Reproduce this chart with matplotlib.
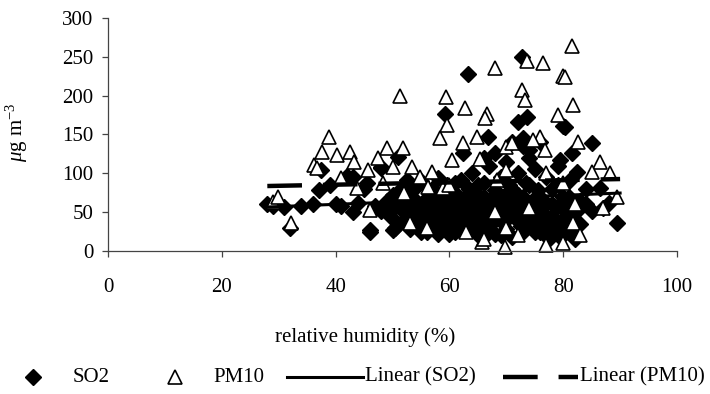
import matplotlib
matplotlib.use("Agg")
import matplotlib.pyplot as plt
from matplotlib.lines import Line2D
import numpy as np

plt.rcParams['font.family'] = ['Liberation Serif', 'DejaVu Serif']
plt.rcParams['mathtext.fontset'] = 'custom'
plt.rcParams['mathtext.rm'] = 'Liberation Serif'
plt.rcParams['mathtext.it'] = 'Liberation Serif:italic'

# SO2 readings: relative humidity (%) and concentration (ug/m3)
so2_rh = [28, 29, 31, 32, 34, 36, 37, 37.5, 39, 40, 41, 42, 43, 43, 44, 45, 46, 47, 48, 48,
          45.5, 48, 51, 46, 50, 58, 59.2, 63.3, 72.8, 72, 73.6, 66.8, 80, 68, 62.4, 80.3,
          85, 79.4, 81.5, 82.4, 86.5, 88, 89.5, 82.6, 81.7,
          49, 49.5, 50, 50.5, 51, 51.5, 52, 52, 52.5, 53, 53, 53.5, 54, 54, 54.5, 55, 55,
          55.5, 56, 56, 56.5, 57, 57, 57.5, 58, 58, 58.5,
          59, 59.5, 60, 60, 60.5, 61, 61, 61.5, 62, 62, 62.5, 63, 63, 63.5, 64, 64, 64.5,
          65, 65, 65.5,
          66, 66, 66.5, 67, 67, 67.5, 68, 68, 68.5, 69, 69, 69.5, 70, 70, 70.5, 71, 71,
          71.5, 72, 72, 72.5, 73, 73, 73.5, 74, 74, 74.5,
          75, 75, 75.5, 76, 76, 76.5, 77, 77, 77.5, 78, 78, 78.5, 79, 79, 79.5, 80, 80,
          80.5, 81, 81.5, 82, 83, 84, 85, 87, 66, 70, 74, 71, 73,
          50, 51, 52, 53, 54, 55, 55, 56, 57, 57, 58, 59, 59, 60, 60, 61, 61, 62, 62,
          63, 63, 64, 64, 65, 65, 66, 66, 67, 67, 68, 68, 69, 69, 70, 70, 71, 71, 72,
          72, 73, 73, 74, 74, 75, 75, 76, 76, 77, 77, 78, 78, 79, 79, 80, 80, 81, 81,
          82, 83, 84]
so2_val = [60, 58, 57, 30, 58, 60, 78, 104, 85, 60, 58, 97, 95, 50, 62, 80, 25, 58, 107, 52,
           88, 108, 121, 27, 27, 94, 177, 228, 250, 166, 173, 147, 161, 126, 126, 160,
           139, 117, 126, 102, 81, 62, 36, 53, 23,
           65, 45, 72, 30, 58, 80, 40, 63, 92, 28, 52, 70, 35, 60, 85, 45, 25,
           65, 55, 38, 75, 30, 62, 48, 70, 22, 40,
           55, 85, 35, 65, 48, 75, 25, 58, 92, 40, 68, 30, 55, 80, 45, 100, 62,
           20, 72, 38,
           55, 88, 30, 65, 110, 45, 78, 22, 58, 95, 38, 70, 50, 28, 85, 60, 18,
           42, 100, 72, 32, 55, 135, 88, 120, 45, 65,
           25, 105, 78, 50, 140, 35, 62, 95, 15, 45, 80, 25, 58, 110, 35, 70, 20,
           50, 90, 40, 15, 65, 80, 52, 55, 120, 115, 130, 140, 145,
           55, 35, 50, 75, 45, 58, 90, 25, 45, 80, 55, 30, 68, 50, 22, 42, 88, 55, 28,
           70, 42, 58, 30, 48, 85, 40, 70, 25, 52, 65, 40, 55, 20, 65, 40, 80, 50, 40,
           60, 25, 70, 35, 85, 60, 45, 70, 25, 45, 30, 60, 35, 85, 20, 40, 60, 70, 25,
           50, 35, 60]

# PM10 readings
pm10_rh = [29, 29.9, 32.2, 38.8, 37.6, 40.2, 42.5, 43.2, 36.2, 36.7, 41, 43.8,
           51.3, 59.4, 58.3, 49, 51.8, 47.5, 50, 53.4, 45.7, 48.3, 54.8, 57, 56.2, 46, 53,
           58.9, 59.6, 62.7, 66.6, 66.3, 68, 72.8, 73.3, 73.6, 76.5, 80, 81.5, 79, 64.8,
           62.4, 70, 76, 76.8, 74.7, 60.5, 65.4, 70, 80.3, 81.7, 82.6, 86.5, 85, 88.2,
           89.5, 87, 80, 81.7, 77, 69.8, 65.7, 68.4, 71,
           52, 56, 60, 63, 66, 68, 70, 72, 74, 77, 80, 82, 83]
pm10_val = [63, 70, 36, 147, 127, 123, 127, 115, 111, 107, 94, 81,
            200, 198, 145, 133, 133, 120, 108, 108, 104, 88, 95, 102, 82, 53, 36,
            81, 162, 184, 177, 171, 235, 207, 194, 244, 242, 225, 264, 175, 147,
            139, 134, 147, 130, 143, 117, 119, 104, 224, 188, 140, 115, 102, 100,
            70, 55, 87, 36, 8, 5, 12, 91, 139,
            75, 30, 85, 25, 15, 50, 30, 20, 55, 100, 10, 60, 20]

# least-squares trend lines (slope, intercept) and their x range
so2_fit = (0.29, 48.5)
pm10_fit = (0.145, 79.6)
fit_range = [28, 90]

fig = plt.figure(figsize=(7.1, 3.94), dpi=100)
ax = fig.add_axes([108 / 710, 1 - 251 / 394, 569 / 710, 233 / 394])

ax.plot(so2_rh, so2_val, linestyle='none', marker='D', ms=8.3,
        mfc='black', mec='black', clip_on=False)
ax.plot(pm10_rh, pm10_val, linestyle='none', marker='^', ms=9.5,
        mfc='white', mec='black', mew=1.2, clip_on=False)

fx = np.array(fit_range)
ax.plot(fx, so2_fit[0] * fx + so2_fit[1], color='black', lw=2.2)
ax.plot(fx, pm10_fit[0] * fx + pm10_fit[1], color='black', lw=3.2,
        dashes=(7.8, 4.7), dash_capstyle='butt')

ax.set_xlim(0, 100)
ax.set_ylim(0, 300)
ax.set_xticks(range(0, 101, 20))
ax.set_yticks(range(0, 301, 50))
for s in ['top', 'right']:
    ax.spines[s].set_visible(False)
for s in ['left', 'bottom']:
    ax.spines[s].set_color('#444444')
    ax.spines[s].set_linewidth(0.9)
ax.tick_params(axis='both', direction='out', length=4.5, width=0.9,
               color='#444444', labelsize=15)
ax.tick_params(axis='x', pad=15)
ax.tick_params(axis='y', pad=6)

ax.set_xlabel('relative humidity (%)', fontsize=15)
ax.xaxis.set_label_coords(0.452, -0.326)
ax.set_ylabel(r'$\mu$g m$^{-3}$', fontsize=15)
ax.yaxis.set_label_coords(-0.137, 0.51)

# legend row along the bottom
ly = 1 - 377 / 394
def px(v):
    return v / 710

fig.add_artist(Line2D([px(33)], [ly], marker='D', ms=8.3, color='black',
                      linestyle='none', transform=fig.transFigure))
fig.text(px(73), ly, 'SO2', fontsize=15, va='center')
fig.add_artist(Line2D([px(175)], [ly], marker='^', ms=9.5, mfc='white', mec='black',
                      mew=1.2, linestyle='none', transform=fig.transFigure))
fig.text(px(213), ly, 'PM10', fontsize=15, va='center')
fig.add_artist(Line2D([px(287), px(363)], [ly, ly], color='black', lw=2.2,
                      transform=fig.transFigure))
fig.text(px(365), ly, 'Linear (SO2)', fontsize=15, va='center')
fig.add_artist(Line2D([px(503), px(578)], [ly, ly], color='black', lw=3.2,
                      dashes=(7.8, 4.7), dash_capstyle='butt', transform=fig.transFigure))
fig.text(px(580), ly, 'Linear (PM10)', fontsize=15, va='center')

fig.savefig('out.png', dpi=100)
